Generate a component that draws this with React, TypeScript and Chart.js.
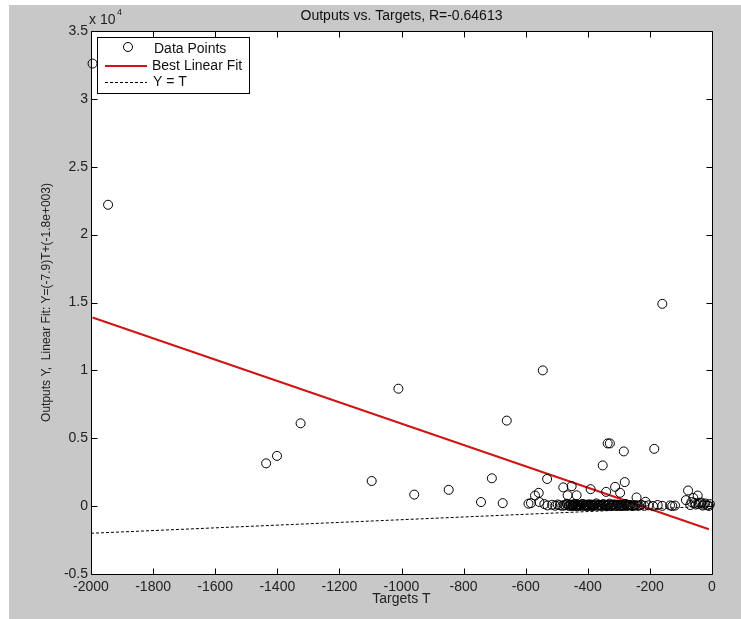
import React, { useEffect, useRef } from "react";
import { Chart, registerables } from "chart.js";

Chart.register(...registerables);

// ---- data ----
const targets: number[] = [
  -1995, -1945, -1436, -1401, -1325, -1096, -1010, -959, -848, -744,
  -709, -674, -661, -591, -583, -570, -558, -545, -531, -479,
  -452, -465, -436, -391, -352, -336, -329, -284, -186, -160,
  -312, -281, -296, -341, -243, -214, -77, -84, -60, -46,
  -40, -22, -7,
  -556, -540, -530, -515, -505, -497, -490, -482, -475, -468,
  -462, -456, -450, -446, -441, -436, -431, -426, -421, -416,
  -411, -406, -401, -396, -390, -385, -379, -372, -366, -360,
  -354, -348, -342, -336, -330, -324, -318, -311, -305, -299,
  -292, -285, -278, -271, -264, -257, -250, -240, -228, -218,
  -205, -190, -175, -160, -135, -128, -119, -70, -52, -30,
  -15, -10,
  -472, -466, -459, -453, -448, -443, -438, -433, -428, -423,
  -418, -413, -408, -403, -398, -393, -388, -382, -376, -369,
  -363, -357, -351, -345, -339, -333, -327, -321, -315, -308,
  -302, -295, -289, -282, -275, -268, -261, -254, -246, -235,
  -66, -56, -44, -35, -26,
];
const outputs: number[] = [
  32600, 22200, 3150, 3700, 6100, 1850, 8650, 850, 1200, 300,
  2050, 220, 6300, 180, 220, 780, 980, 10000, 2000, 1380,
  1470, 800, 800, 1250, 3000, 4620, 4620, 4030, 4220, 14900,
  1420, 1770, 980, 1050, 640, 320, 1150, 440, 600, 780,
  240, 200, 150,
  300, 150, 50, 100, 30, 120, 60, 20, 90, 180,
  40, 110, 10, 70, 140, 30, 90, 20, 60, 150,
  30, 80, 10, 50, 120, 20, 70, 200, 30, 90,
  40, 130, 10, 60, 180, 30, 80, 20, 110, 40,
  70, 10, 160, 40, 90, 20, 60, 30, 100, 20,
  60, 10, 80, 20, 50, 10, 40, 80, 120, 40,
  60, 20,
  60, 130, 20, 90, 50, 160, 10, 110, 40, 70,
  150, 20, 100, 60, 130, 30, 80, 10, 120, 50,
  90, 20, 140, 60, 30, 100, 10, 70, 130, 40,
  90, 20, 60, 110, 30, 80, 50, 20, 70, 40,
  300, 240, 150, 260, 120,
];
const fitT: number[] = [-1995, -10];
const fitY: number[] = [13900, -1700];
const identT: number[] = [-2000, 0];
const identY: number[] = [-2000, 0];

const xTicks: number[] = [-2000, -1800, -1600, -1400, -1200, -1000, -800, -600, -400, -200, 0];
const yTicks: number[] = [-5000, 0, 5000, 10000, 15000, 20000, 25000, 30000, 35000];

const titleText = "Outputs vs. Targets, R=-0.64613";
const xTitle = "Targets T";
const yTitle = "Outputs Y,  Linear Fit: Y=(-7.9)T+(-1.8e+003)";
const legendLabels: string[] = ["Data Points", "Best Linear Fit", "Y = T"];

const FONT = "'Liberation Sans', Arial, sans-serif";
const RED = "#d01414";
const BG = "#c8c8c8";

const decorPlugin = {
  id: "decor",
  beforeDraw(chart: any) {
    const ctx = chart.ctx;
    const { left, right, top, bottom } = chart.chartArea;
    ctx.save();
    ctx.fillStyle = "#ffffff";
    ctx.fillRect(0, 0, chart.width, chart.height);
    ctx.fillStyle = BG;
    ctx.fillRect(9, 5, chart.width - 9, chart.height - 5);
    ctx.fillStyle = "#ffffff";
    ctx.fillRect(left, top, right - left, bottom - top);
    ctx.restore();
  },
  afterDatasetsDraw(chart: any) {
    const ctx = chart.ctx;
    const { left, right, top, bottom } = chart.chartArea;
    const xs = chart.scales.x;
    const ys = chart.scales.y;
    ctx.save();
    ctx.strokeStyle = "#000";
    ctx.lineWidth = 1;
    ctx.setLineDash([]);
    ctx.beginPath();
    const L = Math.round(left) + 0.5, R = Math.round(right) + 0.5;
    const T = Math.round(top) + 0.5, B = Math.round(bottom) + 0.5;
    ctx.rect(L, T, R - L, B - T);
    const tl = 6;
    xTicks.forEach((v) => {
      const px = Math.round(xs.getPixelForValue(v)) + 0.5;
      ctx.moveTo(px, B); ctx.lineTo(px, B - tl);
      ctx.moveTo(px, T); ctx.lineTo(px, T + tl);
    });
    yTicks.forEach((v) => {
      const py = Math.round(ys.getPixelForValue(v)) + 0.5;
      ctx.moveTo(L, py); ctx.lineTo(L + tl, py);
      ctx.moveTo(R, py); ctx.lineTo(R - tl, py);
    });
    ctx.stroke();

    // title
    ctx.fillStyle = "#111";
    ctx.font = `14px ${FONT}`;
    ctx.textAlign = "center";
    ctx.textBaseline = "middle";
    ctx.fillText(titleText, (left + right) / 2, 16);

    // x 10^4 exponent
    ctx.textAlign = "left";
    ctx.font = `14px ${FONT}`;
    ctx.fillStyle = "#222";
    ctx.fillText("x 10", 89, 20);
    ctx.font = `9px ${FONT}`;
    ctx.fillText("4", 117, 13);
    ctx.restore();
  },
  afterDraw(chart: any) {
    const ctx = chart.ctx;
    ctx.save();
    // legend box
    ctx.fillStyle = "#fff";
    ctx.fillRect(97, 37, 152, 56);
    ctx.strokeStyle = "#000";
    ctx.lineWidth = 1;
    ctx.strokeRect(97.5, 37.5, 152, 56);
    // marker
    ctx.beginPath();
    ctx.arc(128, 47, 4.5, 0, Math.PI * 2);
    ctx.stroke();
    // red line
    ctx.strokeStyle = RED;
    ctx.lineWidth = 2;
    ctx.beginPath();
    ctx.moveTo(105, 66); ctx.lineTo(147, 66);
    ctx.stroke();
    // dashed
    ctx.strokeStyle = "#000";
    ctx.lineWidth = 1;
    ctx.setLineDash([3, 2]);
    ctx.beginPath();
    ctx.moveTo(105, 82.5); ctx.lineTo(147, 82.5);
    ctx.stroke();
    ctx.setLineDash([]);
    ctx.fillStyle = "#111";
    ctx.font = `14px ${FONT}`;
    ctx.textAlign = "left";
    ctx.textBaseline = "middle";
    ctx.fillText(legendLabels[0], 154, 49);
    ctx.fillText(legendLabels[1], 152, 66);
    ctx.fillText(legendLabels[2], 153, 82);
    ctx.restore();
  },
};

export default function App() {
  const ref = useRef<HTMLCanvasElement | null>(null);
  useEffect(() => {
    document.body.style.margin = "0";
    const canvas = ref.current;
    if (!canvas) return;
    const points = targets.map((t, i) => ({ x: t, y: outputs[i] }));
    const fit = fitT.map((t, i) => ({ x: t, y: fitY[i] }));
    const ident = identT.map((t, i) => ({ x: t, y: identY[i] }));
    const chart = new Chart(canvas, {
      type: "scatter",
      data: {
        datasets: [
          {
            label: legendLabels[2],
            type: "line",
            data: ident,
            borderColor: "#000",
            borderWidth: 1,
            borderDash: [3, 2],
            pointRadius: 0,
            showLine: true,
            fill: false,
            order: 3,
          } as any,
          {
            label: legendLabels[1],
            type: "line",
            data: fit,
            borderColor: RED,
            borderWidth: 2,
            pointRadius: 0,
            showLine: true,
            fill: false,
            order: 2,
          } as any,
          {
            label: legendLabels[0],
            data: points,
            pointRadius: 4.5,
            pointStyle: "circle",
            borderColor: "#000",
            borderWidth: 1,
            backgroundColor: "rgba(0,0,0,0)",
            clip: false,
            order: 1,
          } as any,
        ],
      },
      options: {
        responsive: false,
        animation: false,
        devicePixelRatio: 1,
        layout: { padding: { left: 0, top: 31, right: 29, bottom: 0 } },
        plugins: {
          legend: { display: false },
          tooltip: { enabled: false },
          title: { display: false },
        },
        scales: {
          x: {
            type: "linear",
            min: -2000,
            max: 0,
            grid: { display: false, drawTicks: false },
            border: { display: false },
            afterBuildTicks: (s: any) => {
              s.ticks = xTicks.map((v) => ({ value: v }));
            },
            afterFit: (s: any) => {
              s.height = 45;
            },
            ticks: {
              autoSkip: false,
              maxRotation: 0,
              minRotation: 0,
              padding: 5,
              color: "#222",
              font: { family: FONT, size: 14 },
              callback: (v: any) => String(v),
            },
            title: {
              display: true,
              text: xTitle,
              color: "#222",
              font: { family: FONT, size: 14 },
              padding: { top: 0, bottom: 11 },
            },
          },
          y: {
            type: "linear",
            min: -5000,
            max: 35000,
            grid: { display: false, drawTicks: false },
            border: { display: false },
            afterBuildTicks: (s: any) => {
              s.ticks = yTicks.map((v) => ({ value: v }));
            },
            afterFit: (s: any) => {
              s.width = 91;
            },
            ticks: {
              autoSkip: false,
              padding: 3,
              color: "#222",
              font: { family: FONT, size: 14 },
              callback: (v: any) => String(Math.round(Number(v) / 1000) / 10),
            },
            title: {
              display: true,
              text: yTitle,
              color: "#222",
              font: { family: FONT, size: 12 },
              padding: { top: 39, bottom: 0 },
            },
          },
        },
      } as any,
      plugins: [decorPlugin],
    });
    return () => chart.destroy();
  }, []);
  return (
    <div style={{ width: 741, height: 619, position: "relative" }}>
      <canvas ref={ref} width={741} height={619} style={{ display: "block" }} />
    </div>
  );
}
